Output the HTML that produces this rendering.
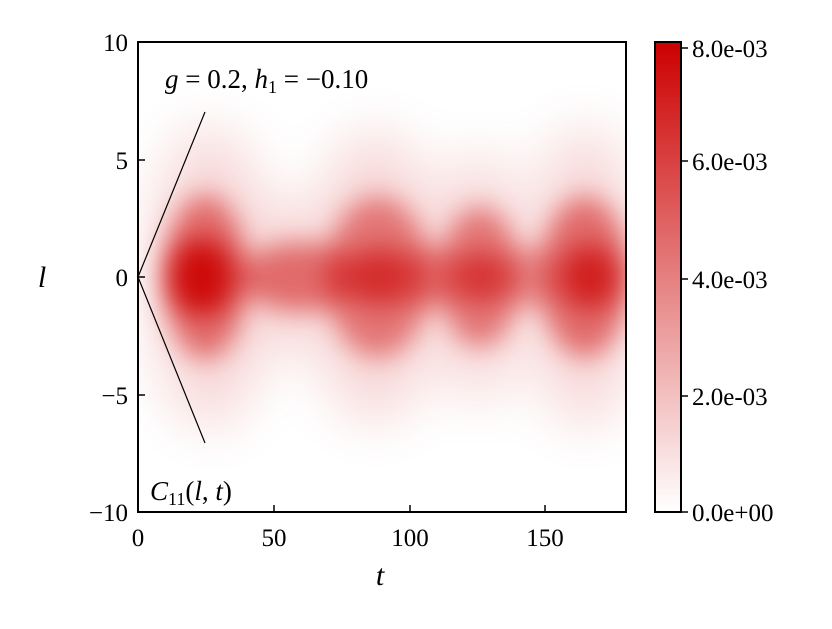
<!DOCTYPE html>
<html><head><style>
body{margin:0;background:#fff;width:832px;height:624px;overflow:hidden}
svg text{font-family:"Liberation Serif",serif;fill:#000}
</style></head><body>
<svg width="832" height="624" xmlns="http://www.w3.org/2000/svg">
<defs>
<filter id="b1" x="-50%" y="-50%" width="200%" height="200%"><feGaussianBlur stdDeviation="13"/></filter>
<filter id="b2" x="-50%" y="-50%" width="200%" height="200%"><feGaussianBlur stdDeviation="28"/></filter>
<clipPath id="c"><rect x="138" y="42" width="488" height="470"/></clipPath>
<linearGradient id="cb" x1="0" y1="1" x2="0" y2="0">
<stop offset="0" stop-color="#fff"/><stop offset="1" stop-color="#cc0000"/></linearGradient>
</defs>
<g clip-path="url(#c)">
<g filter="url(#b2)" fill="#cc0000" opacity="0.16">
<ellipse cx="210" cy="277" rx="60" ry="150"/>
<ellipse cx="375" cy="277" rx="65" ry="145"/>
<ellipse cx="480" cy="277" rx="45" ry="125"/>
<ellipse cx="585" cy="277" rx="55" ry="150"/>
<ellipse cx="290" cy="277" rx="60" ry="70"/>
</g>
<g filter="url(#b1)" fill="#cc0000">
<ellipse cx="205" cy="277" rx="42" ry="82" opacity="0.5"/>
<ellipse cx="378" cy="277" rx="52" ry="80" opacity="0.45"/>
<ellipse cx="480" cy="277" rx="40" ry="70" opacity="0.45"/>
<ellipse cx="585" cy="277" rx="45" ry="80" opacity="0.5"/>
<ellipse cx="300" cy="277" rx="60" ry="34" opacity="0.5"/>
<ellipse cx="430" cy="277" rx="30" ry="30" opacity="0.4"/>
<ellipse cx="530" cy="277" rx="25" ry="30" opacity="0.35"/>
</g>
<g filter="url(#b1)" fill="#cc0000">
<ellipse cx="202" cy="277" rx="32" ry="38" opacity="0.9"/>
<ellipse cx="380" cy="277" rx="32" ry="30" opacity="0.6"/>
<ellipse cx="482" cy="277" rx="28" ry="26" opacity="0.55"/>
<ellipse cx="590" cy="277" rx="30" ry="32" opacity="0.7"/>
</g>
</g>
<line x1="138" y1="277" x2="205" y2="112" stroke="#000" stroke-width="1.2"/>
<line x1="138" y1="277" x2="205" y2="443" stroke="#000" stroke-width="1.2"/>
<rect x="138" y="42" width="488" height="470" fill="none" stroke="#000" stroke-width="2"/>
<g stroke="#000" stroke-width="1.5">
<line x1="274" y1="512" x2="274" y2="505"/><line x1="410" y1="512" x2="410" y2="505"/><line x1="545" y1="512" x2="545" y2="505"/>
<line x1="138" y1="160" x2="145" y2="160"/><line x1="138" y1="277" x2="145" y2="277"/><line x1="138" y1="395" x2="145" y2="395"/>
</g>
<g font-size="25" text-anchor="middle">
<text x="138" y="546">0</text><text x="274" y="546">50</text><text x="410" y="546">100</text><text x="545" y="546">150</text>
</g>
<g font-size="25" text-anchor="end">
<text x="128" y="51">10</text><text x="128" y="169">5</text><text x="128" y="286">0</text><text x="128" y="404">−5</text><text x="128" y="521">−10</text>
</g>
<text x="380" y="585" font-size="30" font-style="italic" text-anchor="middle">t</text>
<text x="42" y="287" font-size="30" font-style="italic" text-anchor="middle">l</text>
<text x="165" y="88" font-size="27"><tspan font-style="italic">g</tspan> = 0.2, <tspan font-style="italic">h</tspan><tspan font-size="18" dy="5">1</tspan><tspan dy="-5"> = −0.10</tspan></text>
<text x="150" y="500" font-size="27"><tspan font-style="italic">C</tspan><tspan font-size="18" dy="5">11</tspan><tspan dy="-5">(</tspan><tspan font-style="italic">l</tspan>, <tspan font-style="italic">t</tspan>)</text>
<rect x="655" y="42" width="26" height="470" fill="url(#cb)" stroke="#000" stroke-width="2"/>
<g stroke="#000" stroke-width="1.5">
<line x1="681" y1="48" x2="688" y2="48"/><line x1="681" y1="161" x2="688" y2="161"/><line x1="681" y1="279" x2="688" y2="279"/><line x1="681" y1="396" x2="688" y2="396"/><line x1="681" y1="512" x2="688" y2="512"/>
</g>
<g font-size="25">
<text x="692" y="57">8.0e-03</text><text x="692" y="170">6.0e-03</text><text x="692" y="288">4.0e-03</text><text x="692" y="405">2.0e-03</text><text x="692" y="521">0.0e+00</text>
</g>
</svg>
</body></html>
